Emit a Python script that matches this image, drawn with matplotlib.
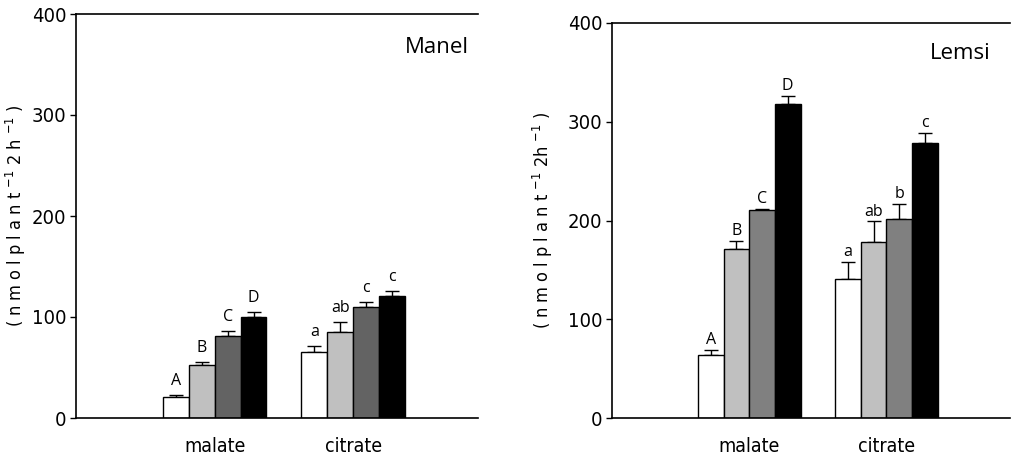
import numpy as np
import matplotlib
matplotlib.use("Agg")
import matplotlib.pyplot as plt
from matplotlib import font_manager

# data
groups = ["malate", "citrate"]
manel_vals = [[21, 52, 81, 100], [65, 85, 110, 121]]
manel_err = [[2, 3, 5, 5], [6, 10, 5, 5]]
manel_letters = [["A", "B", "C", "D"], ["a", "ab", "c", "c"]]
lemsi_vals = [[64, 171, 211, 318], [141, 178, 202, 278]]
lemsi_err = [[5, 8, 1, 8], [17, 21, 15, 11]]
lemsi_letters = [["A", "B", "C", "D"], ["a", "ab", "b", "c"]]

manel_colors = ["white", "#c0c0c0", "#636363", "black"]
lemsi_colors = ["white", "#c0c0c0", "#808080", "black"]

# condensed face for the axis numbers / labels if one is around
def pick(cands):
    for fam, st in cands:
        try:
            font_manager.findfont(font_manager.FontProperties(family=fam, stretch=st),
                                  fallback_to_default=False)
            return fam, st
        except Exception:
            pass
    return "DejaVu Sans", "condensed"

nfam, nst = pick([("Liberation Sans Narrow", "normal"), ("DejaVu Sans", "condensed")])
narrow = dict(family=[nfam, "DejaVu Sans"], stretch=nst)
letter_font = ["Open Sans", "Lato", "DejaVu Sans"]

fig = plt.figure(figsize=(10.11, 4.63), dpi=100)
W, H = 1011., 463.
ax1 = fig.add_axes([76/W, 45/H, 402/W, 404/H])
ax2 = fig.add_axes([612/W, 45/H, 398/W, 395/H])

bw = 0.187

def panel(ax, vals, errs, letters, colors, name, ylab, gap, labx, namexy):
    centers = np.arange(1, len(groups)+1)
    for g in range(len(groups)):
        for i in range(4):
            x = centers[g] + (i - 1.5)*bw
            ax.bar(x, vals[g][i], width=bw, color=colors[i], edgecolor="black",
                   linewidth=1.0, zorder=2)
            ax.errorbar(x, vals[g][i], yerr=[[0], [errs[g][i]]], fmt="none",
                        ecolor="black", elinewidth=1.0, capsize=5, capthick=1.0, zorder=1)
            ax.text(x, vals[g][i] + errs[g][i] + gap, letters[g][i], ha="center",
                    va="baseline", fontsize=11.5, family=letter_font)
    ax.set_xlim(0, 2.9)
    ax.set_ylim(0, 400)
    ax.set_yticks([0, 100, 200, 300, 400])
    ax.set_xticks(centers)
    ax.set_xticklabels(groups, fontsize=14, **narrow)
    for t in ax.get_yticklabels():
        t.set_family(narrow["family"])
        t.set_stretch(nst)
        t.set_fontsize(14.5)
    ax.tick_params(axis="x", length=0, pad=14)
    ax.tick_params(axis="y", length=4, width=1.0, direction="out", pad=3)
    ax.spines["right"].set_visible(False)
    for s in ["left", "bottom", "top"]:
        ax.spines[s].set_linewidth(1.2)
    ax.text(namexy[0], namexy[1], name, transform=ax.transAxes, ha="center", va="center",
            fontsize=16, family=letter_font)
    ax.set_ylabel(ylab, fontsize=13, **narrow)
    ax.yaxis.set_label_coords(labx, 0.5)

panel(ax1, manel_vals, manel_err, manel_letters, manel_colors, "Manel",
      r"( n m o l p l a n t $^{\mathregular{-1}}$ 2 h $^{\mathregular{-1}}$ )", 10, -0.12,
      (0.898, 0.918))
panel(ax2, lemsi_vals, lemsi_err, lemsi_letters, lemsi_colors, "Lemsi",
      r"( n m o l p l a n t $^{\mathregular{-1}}$ 2h $^{\mathregular{-1}}$ )", 6, -0.143,
      (0.874, 0.924))

fig.savefig("out.png", dpi=100)
